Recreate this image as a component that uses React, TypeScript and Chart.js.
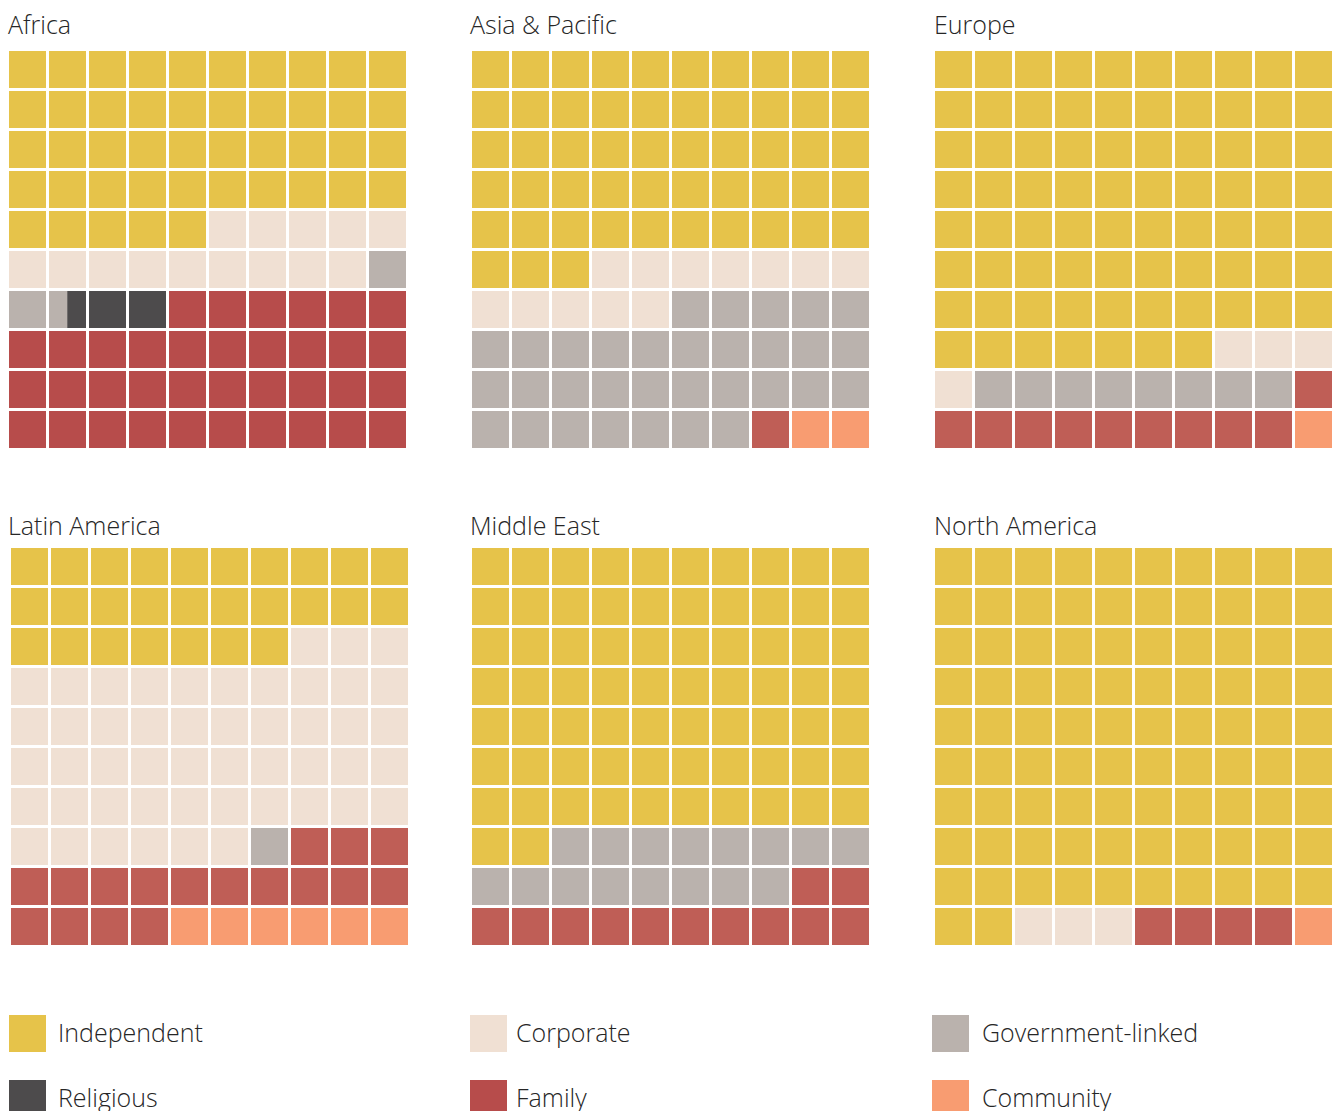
import React, { useEffect, useRef } from 'react';
import { Chart, registerables } from 'chart.js';

Chart.register(...registerables);

// ---------- data ----------
const categories = ['Independent', 'Corporate', 'Government-linked', 'Religious', 'Family', 'Community'];
const regions = ['Africa', 'Asia & Pacific', 'Europe', 'Latin America', 'Middle East', 'North America'];

// share of 100 cells per category, in category order
const africa = [45, 14, 2.5, 2.5, 36, 0];
const asiaPacific = [53, 12, 32, 0, 1, 2];
const europe = [77, 4, 8, 0, 10, 1];
const latinAmerica = [27, 49, 1, 0, 17, 6];
const middleEast = [72, 0, 16, 0, 12, 0];
const northAmerica = [92, 3, 0, 0, 4, 1];

const regionValues = [africa, asiaPacific, europe, latinAmerica, middleEast, northAmerica];
const rowLabels = ['1', '2', '3', '4', '5', '6', '7', '8', '9', '10'];

// ---------- styles ----------
const categoryColors = ['#E6C34A', '#F0E0D3', '#BAB2AD', '#4D4B4C', '#BF5E56', '#F89C71'];
const legendColors = ['#E6C34A', '#F0E0D3', '#BAB2AD', '#4D4B4C', '#B74C4B', '#F89C71'];
const africaFamily = '#B74C4B';

const FONT = '"Open Sans", "Noto Sans", sans-serif';
const PAD = 4;
const GRID = 400;

// cell-grid top-left positions of each panel
const panelPos = [
  { x: 9, y: 51 },
  { x: 472, y: 51 },
  { x: 935, y: 51 },
  { x: 11, y: 548 },
  { x: 472, y: 548 },
  { x: 935, y: 548 },
];
const titlePos = [
  { x: 8, y: 7 },
  { x: 470, y: 7 },
  { x: 934, y: 7 },
  { x: 8, y: 508 },
  { x: 470, y: 508 },
  { x: 934, y: 508 },
];
const legendPos = [
  { x: 9, y: 1015, tx: 58 },
  { x: 470, y: 1015, tx: 516 },
  { x: 932, y: 1015, tx: 982 },
  { x: 9, y: 1080, tx: 58 },
  { x: 470, y: 1080, tx: 516 },
  { x: 932, y: 1080, tx: 982 },
];
const legendOrder = [0, 1, 2, 3, 4, 5];

function buildDatasets(values: number[], regionIndex: number) {
  let cum = 0;
  const datasets: any[] = [];
  values.forEach((v, ci) => {
    const start = cum;
    const end = cum + v;
    cum = end;
    if (v <= 0) return;
    const data = rowLabels.map((_, r) => {
      const rs = r * 10;
      const re = rs + 10;
      const s = Math.max(start, rs);
      const e = Math.min(end, re);
      return e > s ? [s - rs, e - rs] : null;
    });
    let color = categoryColors[ci];
    if (regionIndex === 0 && ci === 4) color = africaFamily;
    datasets.push({
      label: categories[ci],
      data,
      backgroundColor: color,
      borderWidth: 0,
      grouped: false,
      barPercentage: 1,
      categoryPercentage: 1,
    });
  });
  return datasets;
}

function WafflePanel({ index }: { index: number }) {
  const ref = useRef<HTMLCanvasElement>(null);
  const pos = panelPos[index];
  const size = GRID + PAD * 2;
  useEffect(() => {
    if (!ref.current) return;
    const chart = new Chart(ref.current, {
      type: 'bar',
      data: { labels: rowLabels, datasets: buildDatasets(regionValues[index], index) },
      options: {
        indexAxis: 'y',
        animation: false,
        responsive: false,
        events: [],
        layout: { padding: PAD },
        plugins: { legend: { display: false }, tooltip: { enabled: false }, title: { display: false } },
        scales: {
          x: {
            type: 'linear',
            min: 0,
            max: 10,
            ticks: { display: false, stepSize: 1 },
            grid: { color: '#ffffff', lineWidth: 3, z: 1, drawTicks: false },
            border: { display: false },
          },
          y: {
            type: 'category',
            offset: true,
            ticks: { display: false },
            grid: { offset: true, color: '#ffffff', lineWidth: 3, z: 1, drawTicks: false },
            border: { display: false },
          },
        },
      } as any,
    });
    return () => chart.destroy();
  }, [index]);
  return (
    <canvas
      ref={ref}
      width={size}
      height={size}
      style={{ position: 'absolute', left: pos.x - 2 - PAD, top: pos.y - 2 - PAD, width: size, height: size }}
    />
  );
}

export default function App() {
  return (
    <div
      style={{
        position: 'absolute',
        left: 0,
        top: 0,
        width: 1338,
        height: 1111,
        overflow: 'hidden',
        background: '#ffffff',
        fontFamily: FONT,
        color: '#262626',
      }}
    >
      {regions.map((name, i) => (
        <div
          key={name}
          style={{ position: 'absolute', left: titlePos[i].x, top: titlePos[i].y, fontSize: 25, lineHeight: '34px', whiteSpace: 'nowrap', fontWeight: 300 }}
        >
          {name}
        </div>
      ))}
      {regions.map((_, i) => (
        <WafflePanel key={i} index={i} />
      ))}
      {legendOrder.map((ci, k) => (
        <React.Fragment key={categories[ci]}>
          <div
            style={{ position: 'absolute', left: legendPos[k].x, top: legendPos[k].y, width: 37, height: 37, background: legendColors[ci] }}
          />
          <div
            style={{ position: 'absolute', left: legendPos[k].tx, top: legendPos[k].y, fontSize: 25, lineHeight: '34px', whiteSpace: 'nowrap', fontWeight: 300 }}
          >
            {categories[ci]}
          </div>
        </React.Fragment>
      ))}
    </div>
  );
}
